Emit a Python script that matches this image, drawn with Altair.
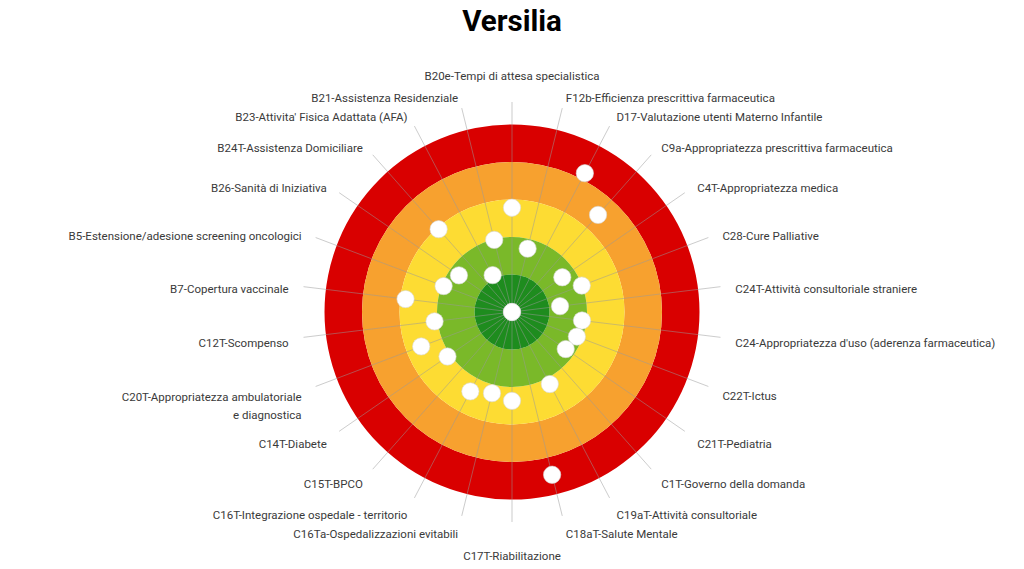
import math
import altair as alt
import pandas as pd

# Indicators clockwise from the top
labels = [
    "B20e-Tempi di attesa specialistica",
    "F12b-Efficienza prescrittiva farmaceutica",
    "D17-Valutazione utenti Materno Infantile",
    "C9a-Appropriatezza prescrittiva farmaceutica",
    "C4T-Appropriatezza medica",
    "C28-Cure Palliative",
    "C24T-Attività consultoriale straniere",
    "C24-Appropriatezza d'uso (aderenza farmaceutica)",
    "C22T-Ictus",
    "C21T-Pediatria",
    "C1T-Governo della domanda",
    "C19aT-Attività consultoriale",
    "C18aT-Salute Mentale",
    "C17T-Riabilitazione",
    "C16Ta-Ospedalizzazioni evitabili",
    "C16T-Integrazione ospedale - territorio",
    "C15T-BPCO",
    "C14T-Diabete",
    "C20T-Appropriatezza ambulatoriale\ne diagnostica",
    "C12T-Scompenso",
    "B7-Copertura vaccinale",
    "B5-Estensione/adesione screening oncologici",
    "B26-Sanità di Iniziativa",
    "B24T-Assistenza Domiciliare",
    "B23-Attivita' Fisica Adattata (AFA)",
    "B21-Assistenza Residenziale",
]
values = [2.78, 1.74, 4.18, 3.46, 1.63, 1.99, 1.29, 1.88, 1.85, 1.74, 0.0, 2.17, 4.47,
          2.37, 2.23, 2.39, 0.0, 2.09, 2.59, 2.08, 2.86, 1.95, 1.72, 2.95, 1.11, 1.98]

# Target bands (inner, outer) in score units
band_inner = [4, 3, 2, 1, 0]
band_outer = [5, 4, 3, 2, 1]
band_color = ["#d90000", "#f7a12f", "#fddc33", "#7ab929", "#1e8c1e"]

N = len(labels)
df = pd.DataFrame({"idx": list(range(N)), "label": labels, "value": values})
rings = pd.DataFrame({"inner": band_inner, "outer": band_outer, "color": band_color})

XS = alt.Scale(domain=[-13.3333, 13.3333], nice=False, zero=False)
YS = alt.Scale(domain=[-6.6667, 6.6667], nice=False, zero=False)
RS = alt.Scale(type="linear", domain=[0, 5], range=[0, 187.5], zero=True, nice=False)

base = alt.Chart(df).transform_calculate(
    ang=f"datum.idx * 2 * PI / {N}",
).transform_calculate(
    px="datum.value * sin(datum.ang)",
    py="datum.value * cos(datum.ang)",
    sx="5.6 * sin(datum.ang)",
    sy="5.6 * cos(datum.ang)",
    lx="6.0 * sin(datum.ang)",
    ly="6.0 * cos(datum.ang)",
    zero="0",
)

ring_layer = alt.Chart(rings).mark_arc(theta=0, theta2=2 * math.pi, strokeWidth=0).encode(
    radius=alt.Radius("outer:Q", scale=RS),
    radius2="inner:Q",
    color=alt.Color("color:N", scale=None),
)

spokes = base.mark_rule(color="#9a9a9a", opacity=0.5, strokeWidth=1).encode(
    x=alt.X("zero:Q", scale=XS, axis=None),
    y=alt.Y("zero:Q", scale=YS, axis=None),
    x2="sx:Q",
    y2="sy:Q",
)

points = base.mark_circle(size=300, color="white", opacity=1, stroke="#d8d8d8", strokeWidth=0.6).encode(
    x=alt.X("px:Q", scale=XS, axis=None),
    y=alt.Y("py:Q", scale=YS, axis=None),
)

txt = dict(font="Roboto", fontSize=11.5, color="#3a3a3a", lineBreak="\n", lineHeight=18)

def text_layer(filt, **kw):
    return base.transform_filter(filt).mark_text(**txt, **kw).encode(
        x=alt.X("lx:Q", scale=XS, axis=None),
        y=alt.Y("ly:Q", scale=YS, axis=None),
        text="label:N",
    )

top = text_layer("datum.idx == 0", align="center", baseline="middle", dy=-10)
bottom = text_layer(f"datum.idx == {N // 2}", align="center", baseline="middle", dy=20)
right = text_layer(f"datum.idx > 0 && datum.idx < {N // 2}", align="left", baseline="middle", dy=5)
left = text_layer(f"datum.idx > {N // 2} && datum.idx != 18", align="right", baseline="middle", dy=5)
left2 = text_layer("datum.idx == 18", align="right", baseline="middle", dy=6)

chart = alt.layer(ring_layer, spokes, points, top, bottom, right, left, left2).properties(
    width=1000,
    height=500,
    title=alt.TitleParams("Versilia", font="Roboto", fontSize=29.5, fontWeight="bold",
                          color="#000000", anchor="middle", frame="group", offset=25),
    autosize=alt.AutoSizeParams(type="none"),
    padding={"left": 12, "right": 12, "top": 62, "bottom": 5},
).configure_view(stroke=None)

chart.save("out.html", embed_options={"renderer": "svg", "actions": False})
